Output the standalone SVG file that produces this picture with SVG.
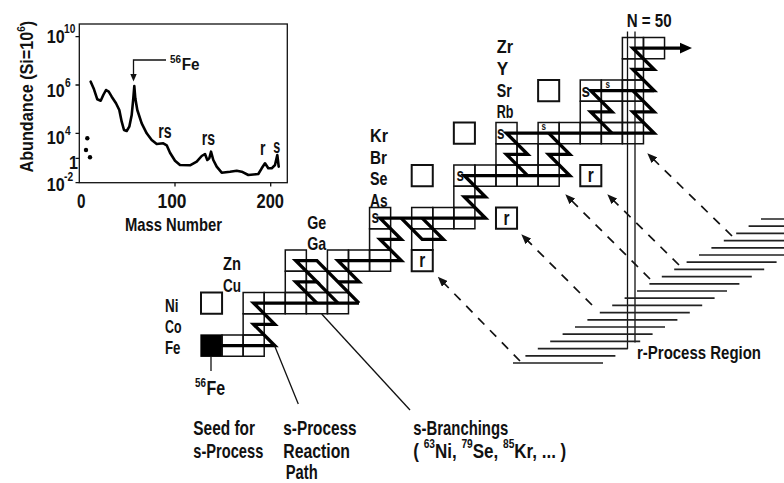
<svg xmlns="http://www.w3.org/2000/svg" width="784" height="483" viewBox="0 0 784 483">
<style>
text{font-family:"Liberation Sans",Arial,sans-serif;font-weight:700;fill:#111}
.e{font-size:19px}
.b{font-size:20.5px}
.cell{fill:none;stroke:#111;stroke-width:1.5}
.cb{fill:#fff;stroke:#111;stroke-width:2}
.sp{fill:none;stroke:#000;stroke-width:3.4;stroke-linejoin:miter;stroke-miterlimit:6}
.thin{fill:none;stroke:#111;stroke-width:1.3}
.da{fill:none;stroke:#111;stroke-width:1.7;stroke-dasharray:9 8}
.h{fill:none;stroke:#222;stroke-width:1.7}
.cv{fill:none;stroke:#000;stroke-width:2.6;stroke-linejoin:round;stroke-linecap:round}
</style>
<defs>
<rect id="c" class="cell" width="21.07" height="21.25"/>
<rect id="q" class="cb" width="21.07" height="21.25"/>
<marker id="ah" viewBox="0 0 10 8" refX="9" refY="4" markerWidth="10" markerHeight="8" markerUnits="userSpaceOnUse" orient="auto"><path d="M0,0 L10,4 L0,8 z" fill="#111"/></marker>
</defs>
<rect width="784" height="483" fill="#fff"/>

<!-- inset abundance plot -->
<g id="inset">
<rect x="79.3" y="24" width="208" height="158.7" class="thin" stroke-width="1.5"/>
<path class="thin" d="M75.5 36.7H79.3M75.5 85H79.3M75.5 133.3H79.3M75.5 158.3H79.3M75.5 182.7H79.3M175 182.7V186.5M270.7 182.7V186.5"/>
<polyline class="cv" points="90.7,81.7 94,89.3 97.3,99.3 100.7,100.7 103.3,95 106,90 108.7,91.7 111.7,96.7 116,103.3 119.3,110 121.7,121.7 124,130 126.7,131 129.3,126.7 131.7,115 133.3,98.3 134.3,86 135.3,98.3 137.3,110 141.7,123.3 146.7,133.3 151.7,140 156.7,144 163.3,143.3 166.7,145.3 170,152.7 175,160.7 180,165 190,165.3 196.7,161.7 201.7,156 205,154 207.3,160 209.3,158.3 211,151.7 213.3,160 216.7,166.7 221.7,172.7 230,171.7 236.7,170.7 241.7,171.7 248.3,175 258.3,174 261.7,168.3 265,163.3 268.3,168.3 271.7,168.3 275,165 277.3,155 278.7,166.7"/>
<circle cx="87.3" cy="138.3" r="2.2" fill="#000"/>
<circle cx="86" cy="150" r="2.2" fill="#000"/>
<circle cx="90" cy="157.3" r="2.2" fill="#000"/>
<polyline class="thin" points="166,60 133.5,60 133.5,75"/>
<path d="M130.3,74 L136.7,74 L133.5,81.5 z" fill="#111"/>
<text transform="translate(170,70) scale(0.9,1)"><tspan x="0" y="-7" font-size="11">56</tspan><tspan x="13" y="0" font-size="17">Fe</tspan></text>
<text x="158.3" y="138.3" font-size="20" textLength="13.4" lengthAdjust="spacingAndGlyphs">rs</text>
<text x="201.7" y="145" font-size="20" textLength="13.3" lengthAdjust="spacingAndGlyphs">rs</text>
<text x="260" y="155" font-size="20" textLength="5.5" lengthAdjust="spacingAndGlyphs">r</text>
<text x="273.3" y="153.3" font-size="20" textLength="7" lengthAdjust="spacingAndGlyphs">s</text>
<text transform="translate(46.7,43) scale(0.85,1)" font-size="19"><tspan x="0" y="0">10</tspan><tspan x="20.5" y="-10" font-size="12">10</tspan></text>
<text transform="translate(46.7,96.7) scale(0.85,1)" font-size="19"><tspan x="0" y="0">10</tspan><tspan x="21.5" y="-9.5" font-size="12">6</tspan></text>
<text transform="translate(46.7,144) scale(0.85,1)" font-size="19"><tspan x="0" y="0">10</tspan><tspan x="21.5" y="-9" font-size="12">4</tspan></text>
<text transform="translate(69,169) scale(0.85,1)" font-size="19">1</text>
<text transform="translate(46.7,190.5) scale(0.85,1)" font-size="19"><tspan x="0" y="0">10</tspan><tspan x="20.5" y="-9.5" font-size="12">-2</tspan></text>
<text x="77" y="208" font-size="21" textLength="8.5" lengthAdjust="spacingAndGlyphs">0</text>
<text x="157.5" y="208" font-size="21" textLength="29" lengthAdjust="spacingAndGlyphs">100</text>
<text x="256.5" y="208" font-size="21" textLength="27.5" lengthAdjust="spacingAndGlyphs">200</text>
<text x="125" y="231" font-size="18.5" textLength="97" lengthAdjust="spacingAndGlyphs">Mass Number</text>
<text transform="translate(32.5,172.5) rotate(-90) scale(0.9,1)" font-size="18"><tspan x="0" y="0">Abundance (Si=10</tspan><tspan y="-8" font-size="11">6</tspan><tspan y="0">)</tspan></text>
</g>

<!-- nuclide cells -->
<g id="Fe">
<rect x="201" y="335" width="21.07" height="21.25" fill="#000" stroke="#000" stroke-width="1.3"/>
<use href="#c" x="222.07" y="335"/><use href="#c" x="243.14" y="335"/>
<text class="e" x="165" y="353.5" textLength="15.5" lengthAdjust="spacingAndGlyphs">Fe</text>
</g>
<g id="Co">
<use href="#c" x="243.14" y="313.75"/>
<text class="e" x="165" y="333" textLength="16.5" lengthAdjust="spacingAndGlyphs">Co</text>
</g>
<g id="Ni">
<use href="#q" x="201" y="292.5"/>
<use href="#c" x="243.14" y="292.5"/><use href="#c" x="264.21" y="292.5"/><use href="#c" x="285.28" y="292.5"/><use href="#c" x="306.35" y="292.5"/><use href="#c" x="327.42" y="292.5"/>
<text class="e" x="165" y="312" textLength="13.5" lengthAdjust="spacingAndGlyphs">Ni</text>
</g>
<g id="Cu">
<use href="#c" x="285.28" y="271.25"/><use href="#c" x="306.35" y="271.25"/><use href="#c" x="327.42" y="271.25"/>
<text class="e" x="223" y="292" textLength="18" lengthAdjust="spacingAndGlyphs">Cu</text>
</g>
<g id="Zn">
<use href="#c" x="285.28" y="250"/><use href="#c" x="327.42" y="250"/><use href="#c" x="348.49" y="250"/><use href="#c" x="369.56" y="250"/>
<use href="#q" x="411.7" y="250"/>
<text x="422.2" y="267" font-size="21" text-anchor="middle" textLength="6" lengthAdjust="spacingAndGlyphs">r</text>
<text class="e" x="223" y="270" textLength="18" lengthAdjust="spacingAndGlyphs">Zn</text>
</g>
<g id="Ga">
<use href="#c" x="369.56" y="228.75"/><use href="#c" x="411.7" y="228.75"/>
<text class="e" x="307.3" y="250" textLength="19" lengthAdjust="spacingAndGlyphs">Ga</text>
</g>
<g id="Ge">
<use href="#c" x="369.56" y="207.5"/><use href="#c" x="411.7" y="207.5"/><use href="#c" x="432.77" y="207.5"/><use href="#c" x="453.84" y="207.5"/>
<use href="#q" x="495.98" y="207.5"/>
<text x="506.5" y="224.5" font-size="21" text-anchor="middle" textLength="6" lengthAdjust="spacingAndGlyphs">r</text>
<text class="e" x="307.3" y="228.5" textLength="19" lengthAdjust="spacingAndGlyphs">Ge</text>
</g>
<g id="As">
<use href="#c" x="453.84" y="186.25"/>
<text class="e" x="370" y="206.5" textLength="17.5" lengthAdjust="spacingAndGlyphs">As</text>
</g>
<g id="Se">
<use href="#q" x="411.7" y="165"/>
<use href="#c" x="453.84" y="165"/><use href="#c" x="474.91" y="165"/><use href="#c" x="495.98" y="165"/><use href="#c" x="517.05" y="165"/><use href="#c" x="538.12" y="165"/>
<use href="#q" x="580.26" y="165"/>
<text x="590.8" y="182" font-size="21" text-anchor="middle" textLength="6" lengthAdjust="spacingAndGlyphs">r</text>
<text class="e" x="370" y="185" textLength="17.5" lengthAdjust="spacingAndGlyphs">Se</text>
</g>
<g id="Br">
<use href="#c" x="495.98" y="143.75"/><use href="#c" x="517.05" y="143.75"/><use href="#c" x="538.12" y="143.75"/>
<text class="e" x="370" y="163.5" textLength="17" lengthAdjust="spacingAndGlyphs">Br</text>
</g>
<g id="Kr">
<use href="#q" x="453.84" y="122.5"/>
<use href="#c" x="495.98" y="122.5"/><use href="#c" x="538.12" y="122.5"/><use href="#c" x="559.19" y="122.5"/><use href="#c" x="580.26" y="122.5"/><use href="#c" x="601.33" y="122.5"/><use href="#c" x="622.4" y="122.5"/>
<text class="e" x="370" y="142" textLength="18" lengthAdjust="spacingAndGlyphs">Kr</text>
</g>
<g id="Rb">
<use href="#c" x="580.26" y="101.25"/><use href="#c" x="601.33" y="101.25"/><use href="#c" x="622.4" y="101.25"/>
<text class="e" x="496.7" y="118.3" textLength="16.7" lengthAdjust="spacingAndGlyphs">Rb</text>
</g>
<g id="Sr">
<use href="#q" x="538.12" y="80"/>
<use href="#c" x="580.26" y="80"/><use href="#c" x="601.33" y="80"/><use href="#c" x="622.4" y="80"/>
<text class="e" x="496.7" y="96.7" textLength="15" lengthAdjust="spacingAndGlyphs">Sr</text>
</g>
<g id="Y">
<use href="#c" x="622.4" y="58.75"/>
<text class="e" x="496.7" y="75" textLength="11.5" lengthAdjust="spacingAndGlyphs">Y</text>
</g>
<g id="Zr">
<use href="#c" x="622.4" y="37.5"/><use href="#c" x="643.47" y="37.5"/>
<text class="e" x="496.7" y="53.3" textLength="16.3" lengthAdjust="spacingAndGlyphs">Zr</text>
</g>

<!-- N = 50 and r-process region -->
<g id="n50">
<path class="thin" d="M627.5 31.5V349M635 31.5V342.5"/>
<text class="e" x="626.7" y="26.7" textLength="45" lengthAdjust="spacingAndGlyphs">N = 50</text>
</g>
<g id="rregion">
<path class="h" d="M761 219H784M748.6 226.2H784M736.2 233.4H784M723.8 240.6H784M711.4 247.8H784M699 255H784M686.6 262.2H776.6M674.2 269.4H764.2M661.8 276.6H751.8M649.4 283.8H739.4M637 291H727M624.6 298.2H714.6M612.2 305.4H702.2M599.8 312.6H689.8M587.4 319.8H677.4M575 327H665M562.6 334.2H652.6M550.2 341.4H640.2M537.8 348.6H627.8M525.4 355.8H615.4M513 363H603"/>
<text x="637" y="359" font-size="18" textLength="124" lengthAdjust="spacingAndGlyphs">r-Process Region</text>
</g>

<!-- connectors: s-process path, leaders, r-process arrows -->
<g id="connectors">
<polyline class="sp" points="211.5,345.6 274.7,345.6 253.7,324.4 274.7,324.4 253.7,303.1 359,303.1"/>
<polyline class="sp" points="316.9,303.1 295.8,281.9 316.9,281.9 295.8,260.6 316.9,260.6 359,303.1"/>
<line class="sp" x1="316.9" y1="281.9" x2="338" y2="303.1"/>
<polyline class="sp" points="338,281.9 359,281.9 338,260.6 401.2,260.6 380.1,239.4 401.2,239.4 380.1,218.1 485.4,218.1 464.4,196.9 485.4,196.9 464.4,175.6 569.7,175.6 548.7,154.4 569.7,154.4 548.7,133.1"/>
<polyline class="sp" points="401.2,218.1 422.2,239.4 443.3,239.4 422.2,218.1"/>
<polyline class="sp" points="527.6,175.6 506.5,154.4 527.6,154.4 506.5,133.1 654,133.1 632.9,111.9 654,111.9 632.9,90.6 654,90.6 632.9,69.4 654,69.4 632.9,48.1 681,48.1"/>
<polyline class="sp" points="611.9,133.1 590.8,111.9 611.9,111.9 590.8,90.6 654,90.6"/>
<path d="M680,42.8 L692,48.1 L680,53.4 z" fill="#000"/>
<line class="thin" x1="274.7" y1="346" x2="298.3" y2="404"/>
<line class="thin" x1="321.7" y1="314" x2="410" y2="410"/>
<line class="thin" x1="211" y1="356.3" x2="211" y2="371"/>
<line class="da" x1="520" y1="361" x2="438.5" y2="277.5" marker-end="url(#ah)"/>
<line class="da" x1="592" y1="305" x2="522" y2="235" marker-end="url(#ah)"/>
<line class="da" x1="650" y1="279" x2="566" y2="195" marker-end="url(#ah)"/>
<line class="da" x1="679" y1="265" x2="608" y2="195" marker-end="url(#ah)"/>
<line class="da" x1="732" y1="236" x2="648" y2="154" marker-end="url(#ah)"/>
</g>

<!-- s-only markers -->
<g id="s-labels">
<text x="371.5" y="223" font-size="18" textLength="7.5" lengthAdjust="spacingAndGlyphs">s</text>
<text x="456.5" y="180.5" font-size="18" textLength="7.5" lengthAdjust="spacingAndGlyphs">s</text>
<text x="497" y="138.5" font-size="18" textLength="7.5" lengthAdjust="spacingAndGlyphs">s</text>
<text x="541.5" y="130" font-size="10.5" textLength="4.5" lengthAdjust="spacingAndGlyphs">s</text>
<text x="581.5" y="96.7" font-size="19" textLength="8.5" lengthAdjust="spacingAndGlyphs">s</text>
<text x="605.5" y="88.3" font-size="10.5" textLength="4.5" lengthAdjust="spacingAndGlyphs">s</text>
</g>

<!-- bottom captions -->
<g id="captions">
<text transform="translate(195,395) scale(0.82,1)"><tspan x="0" y="-8" font-size="12">56</tspan><tspan x="14" y="0" font-size="19.5">Fe</tspan></text>
<text class="b" x="193.3" y="435" textLength="61.7" lengthAdjust="spacingAndGlyphs">Seed for</text>
<text class="b" x="193.3" y="458" textLength="70" lengthAdjust="spacingAndGlyphs">s-Process</text>
<text class="b" x="283.3" y="435" textLength="73.3" lengthAdjust="spacingAndGlyphs">s-Process</text>
<text class="b" x="283.3" y="458" textLength="66.7" lengthAdjust="spacingAndGlyphs">Reaction</text>
<text class="b" x="285.7" y="479" textLength="32" lengthAdjust="spacingAndGlyphs">Path</text>
<text class="b" x="413.3" y="435" textLength="95" lengthAdjust="spacingAndGlyphs">s-Branchings</text>
<text transform="translate(413.3,458) scale(0.85,1)" font-size="20">( <tspan dy="-10" font-size="12">63</tspan><tspan dy="10">Ni, </tspan><tspan dy="-10" font-size="12">79</tspan><tspan dy="10">Se, </tspan><tspan dy="-10" font-size="12">85</tspan><tspan dy="10">Kr, ... )</tspan></text>
</g>
</svg>
